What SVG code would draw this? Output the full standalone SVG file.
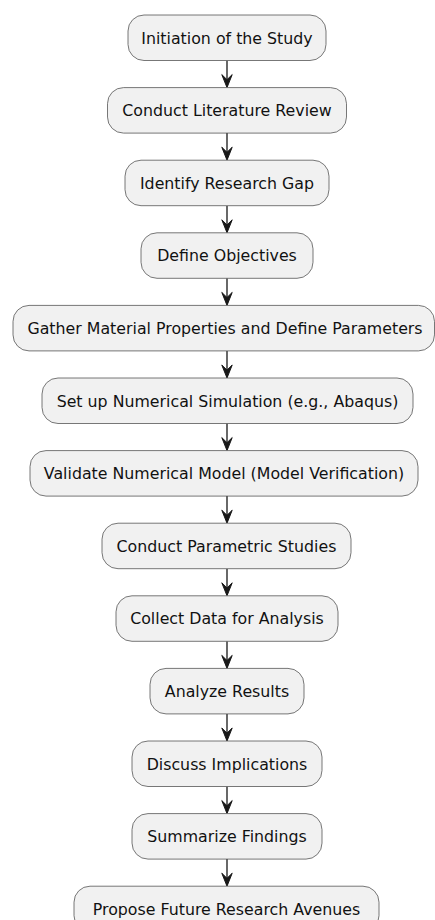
<svg xmlns="http://www.w3.org/2000/svg" width="435" height="920" viewBox="0 0 435 920">
<defs>
<style>
.n rect{fill:#F1F1F1;stroke:#555;stroke-width:0.8}
.n text{font-family:"DejaVu Sans",sans-serif;font-size:15.8px;fill:#111;text-anchor:middle}
.c line{stroke:#181818;stroke-width:1.3}
.c polygon{fill:#181818;stroke:#181818;stroke-width:1}
</style>
</defs>
<rect width="435" height="920" fill="#fff"/>
<g class="c">
<line x1="227" y1="60.5" x2="227" y2="86"/><polygon points="221.8,74.6 227,87.6 232.2,74.6 227,79.7"/>
<line x1="227" y1="133.1" x2="227" y2="158.6"/><polygon points="221.8,147.2 227,160.2 232.2,147.2 227,152.3"/>
<line x1="227" y1="205.7" x2="227" y2="231.2"/><polygon points="221.8,219.8 227,232.8 232.2,219.8 227,224.9"/>
<line x1="227" y1="278.3" x2="227" y2="303.8"/><polygon points="221.8,292.4 227,305.4 232.2,292.4 227,297.5"/>
<line x1="227" y1="350.9" x2="227" y2="376.4"/><polygon points="221.8,365 227,378 232.2,365 227,370.1"/>
<line x1="227" y1="423.5" x2="227" y2="449"/><polygon points="221.8,437.6 227,450.6 232.2,437.6 227,442.7"/>
<line x1="227" y1="496.1" x2="227" y2="521.6"/><polygon points="221.8,510.2 227,523.2 232.2,510.2 227,515.3"/>
<line x1="227" y1="568.7" x2="227" y2="594.2"/><polygon points="221.8,582.8 227,595.8 232.2,582.8 227,587.9"/>
<line x1="227" y1="641.3" x2="227" y2="666.8"/><polygon points="221.8,655.4 227,668.4 232.2,655.4 227,660.5"/>
<line x1="227" y1="713.9" x2="227" y2="739.4"/><polygon points="221.8,728 227,741 232.2,728 227,733.1"/>
<line x1="227" y1="786.5" x2="227" y2="812"/><polygon points="221.8,800.6 227,813.6 232.2,800.6 227,805.7"/>
<line x1="227" y1="859.1" x2="227" y2="884.6"/><polygon points="221.8,873.2 227,886.2 232.2,873.2 227,878.3"/>
</g>
<g id="n1" class="n"><rect x="128" y="15" width="198" height="45.5" rx="16"/><text x="227" y="43.5">Initiation of the Study</text></g>
<g id="n2" class="n"><rect x="107.5" y="87.6" width="239" height="45.5" rx="16"/><text x="227" y="116.1">Conduct Literature Review</text></g>
<g id="n3" class="n"><rect x="125" y="160.2" width="204" height="45.5" rx="16"/><text x="227" y="188.7">Identify Research Gap</text></g>
<g id="n4" class="n"><rect x="141" y="232.8" width="172" height="45.5" rx="16"/><text x="227" y="261.3">Define Objectives</text></g>
<g id="n5" class="n"><rect x="13" y="305.4" width="421.5" height="45.5" rx="16"/><text x="225" y="333.9">Gather Material Properties and Define Parameters</text></g>
<g id="n6" class="n"><rect x="42" y="378" width="371" height="45.5" rx="16"/><text x="227.5" y="406.5">Set up Numerical Simulation (e.g., Abaqus)</text></g>
<g id="n7" class="n"><rect x="30" y="450.6" width="388" height="45.5" rx="16"/><text x="224" y="479.1">Validate Numerical Model (Model Verification)</text></g>
<g id="n8" class="n"><rect x="102" y="523.2" width="249" height="45.5" rx="16"/><text x="226.5" y="551.7">Conduct Parametric Studies</text></g>
<g id="n9" class="n"><rect x="116" y="595.8" width="222" height="45.5" rx="16"/><text x="227" y="624.3">Collect Data for Analysis</text></g>
<g id="n10" class="n"><rect x="150" y="668.4" width="154" height="45.5" rx="16"/><text x="227" y="696.9">Analyze Results</text></g>
<g id="n11" class="n"><rect x="132" y="741" width="190" height="45.5" rx="16"/><text x="227" y="769.5">Discuss Implications</text></g>
<g id="n12" class="n"><rect x="132" y="813.6" width="190" height="45.5" rx="16"/><text x="227" y="842.1">Summarize Findings</text></g>
<g id="n13" class="n"><rect x="74" y="886.2" width="305" height="45.5" rx="16"/><text x="226.5" y="914.7">Propose Future Research Avenues</text></g>
</svg>
